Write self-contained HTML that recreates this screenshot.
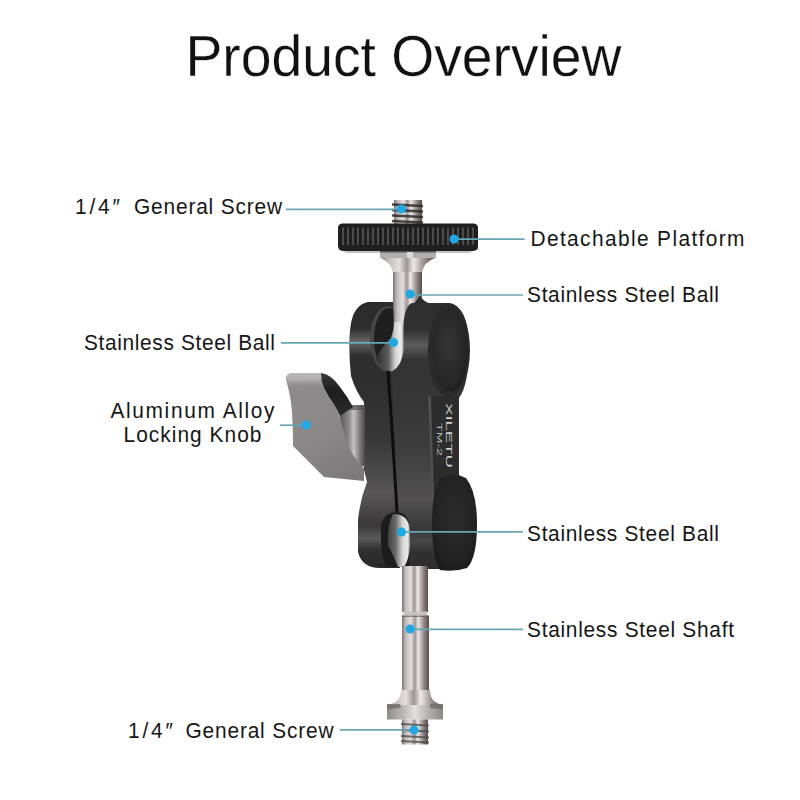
<!DOCTYPE html>
<html><head><meta charset="utf-8">
<style>
html,body{margin:0;padding:0;background:#fff;width:800px;height:800px;overflow:hidden}
svg{display:block}
text{font-family:"Liberation Sans",sans-serif;fill:#161616}
</style></head>
<body>
<svg width="800" height="800" viewBox="0 0 800 800">
<defs>
  <linearGradient id="steelV" x1="0" y1="0" x2="1" y2="0">
    <stop offset="0" stop-color="#7e7676"/>
    <stop offset="0.14" stop-color="#c4bcbc"/>
    <stop offset="0.34" stop-color="#e4dede"/>
    <stop offset="0.48" stop-color="#9c9494"/>
    <stop offset="0.6" stop-color="#eeeaea"/>
    <stop offset="0.76" stop-color="#a89e9e"/>
    <stop offset="0.92" stop-color="#6e6262"/>
    <stop offset="1" stop-color="#5a5050"/>
  </linearGradient>
  <linearGradient id="darkV" x1="0" y1="0" x2="1" y2="0">
    <stop offset="0" stop-color="#1e1e1e"/>
    <stop offset="0.3" stop-color="#3c3c3c"/>
    <stop offset="0.7" stop-color="#2a2a2a"/>
    <stop offset="1" stop-color="#181818"/>
  </linearGradient>
  <linearGradient id="backG" gradientUnits="userSpaceOnUse" x1="0" y1="302" x2="0" y2="568">
    <stop offset="0" stop-color="#2c2c2c"/>
    <stop offset="0.3" stop-color="#2e2e2e"/>
    <stop offset="0.52" stop-color="#383838"/>
    <stop offset="0.72" stop-color="#585656"/>
    <stop offset="0.82" stop-color="#3e3c3c"/>
    <stop offset="1" stop-color="#282828"/>
  </linearGradient>
  <linearGradient id="frontG" gradientUnits="userSpaceOnUse" x1="0" y1="302" x2="0" y2="576">
    <stop offset="0" stop-color="#303030"/>
    <stop offset="0.3" stop-color="#343434"/>
    <stop offset="0.52" stop-color="#3c3c3c"/>
    <stop offset="0.72" stop-color="#525050"/>
    <stop offset="0.84" stop-color="#363636"/>
    <stop offset="1" stop-color="#2a2a2a"/>
  </linearGradient>
  <radialGradient id="capG" cx="0.45" cy="0.45" r="0.6">
    <stop offset="0" stop-color="#353535"/>
    <stop offset="0.8" stop-color="#262626"/>
    <stop offset="1" stop-color="#1c1c1c"/>
  </radialGradient>
  <linearGradient id="cylG" x1="0" y1="0" x2="1" y2="0">
    <stop offset="0" stop-color="#5a5858"/>
    <stop offset="0.35" stop-color="#8a8888"/>
    <stop offset="0.55" stop-color="#c4c2c2"/>
    <stop offset="0.8" stop-color="#7a7878"/>
    <stop offset="1" stop-color="#4a4848"/>
  </linearGradient>
  <linearGradient id="baseG" x1="0" y1="0" x2="1" y2="0">
    <stop offset="0" stop-color="#8e8c8a"/>
    <stop offset="0.3" stop-color="#bdbab8"/>
    <stop offset="0.5" stop-color="#e2e0de"/>
    <stop offset="0.75" stop-color="#b0aeac"/>
    <stop offset="1" stop-color="#8a8886"/>
  </linearGradient>
  <linearGradient id="ballG" gradientUnits="userSpaceOnUse" x1="376" y1="0" x2="404" y2="0">
    <stop offset="0" stop-color="#2a2a2a"/>
    <stop offset="0.45" stop-color="#606060"/>
    <stop offset="0.68" stop-color="#cfcfcf"/>
    <stop offset="0.88" stop-color="#ededed"/>
    <stop offset="1" stop-color="#a5a5a5"/>
  </linearGradient>
  <linearGradient id="ballG2" gradientUnits="userSpaceOnUse" x1="384" y1="0" x2="410" y2="0">
    <stop offset="0" stop-color="#2a2a2a"/>
    <stop offset="0.45" stop-color="#6a6a6a"/>
    <stop offset="0.72" stop-color="#d6d6d6"/>
    <stop offset="0.9" stop-color="#e8e8e8"/>
    <stop offset="1" stop-color="#9a9a9a"/>
  </linearGradient>
  <linearGradient id="bandG" x1="0" y1="0" x2="0" y2="1">
    <stop offset="0" stop-color="#7a7a7a" stop-opacity="0"/>
    <stop offset="0.5" stop-color="#7a7a7a" stop-opacity="0.75"/>
    <stop offset="1" stop-color="#7a7a7a" stop-opacity="0"/>
  </linearGradient>
  <linearGradient id="bandG2" x1="0" y1="0" x2="0" y2="1">
    <stop offset="0" stop-color="#6e6e6e" stop-opacity="0"/>
    <stop offset="0.5" stop-color="#6e6e6e" stop-opacity="0.7"/>
    <stop offset="1" stop-color="#6e6e6e" stop-opacity="0"/>
  </linearGradient>
  <linearGradient id="notchG" gradientUnits="userSpaceOnUse" x1="0" y1="373" x2="0" y2="416">
    <stop offset="0" stop-color="#3a3a3a"/>
    <stop offset="0.4" stop-color="#1e1e1e"/>
    <stop offset="1" stop-color="#2a2a2a"/>
  </linearGradient>
  <linearGradient id="knobTopG" x1="0" y1="0" x2="0" y2="1">
    <stop offset="0" stop-color="#bdbbbb"/>
    <stop offset="0.45" stop-color="#adabab"/>
    <stop offset="1" stop-color="#8e8c8c" stop-opacity="0"/>
  </linearGradient>
  <radialGradient id="capG2" cx="0.5" cy="0.45" r="0.6">
    <stop offset="0" stop-color="#2c2c2c"/>
    <stop offset="0.75" stop-color="#232323"/>
    <stop offset="1" stop-color="#1a1a1a"/>
  </radialGradient>
  <linearGradient id="knobG" gradientUnits="userSpaceOnUse" x1="286" y1="373" x2="364" y2="481">
    <stop offset="0" stop-color="#8e8c8c"/>
    <stop offset="0.5" stop-color="#8a8888"/>
    <stop offset="1" stop-color="#7a7878"/>
  </linearGradient>
</defs>

<!-- title -->
<text transform="translate(185.5,76) scale(1,1.07)" font-size="54" textLength="436" lengthAdjust="spacingAndGlyphs" style="fill:#111;stroke:#fff;stroke-width:0.25px">Product Overview</text>

<!-- labels -->
<text transform="translate(75.00,213.5) scale(0.95,1)" font-size="22" textLength="47.37" lengthAdjust="spacing" style="stroke:#fff;stroke-width:0px">1/4″</text>
<text transform="translate(134.00,213.5) scale(0.95,1)" font-size="22" textLength="155.79" lengthAdjust="spacing" style="stroke:#fff;stroke-width:0px">General Screw</text>
<text transform="translate(530.50,245.5) scale(0.95,1)" font-size="22" textLength="225.26" lengthAdjust="spacing" style="stroke:#fff;stroke-width:0px">Detachable Platform</text>
<text transform="translate(527.00,301.5) scale(0.95,1)" font-size="22" textLength="202.11" lengthAdjust="spacing" style="stroke:#fff;stroke-width:0px">Stainless Steel Ball</text>
<text transform="translate(84.00,349.5) scale(0.95,1)" font-size="22" textLength="201.05" lengthAdjust="spacing" style="stroke:#fff;stroke-width:0px">Stainless Steel Ball</text>
<text transform="translate(110.50,418) scale(0.95,1)" font-size="22" textLength="172.63" lengthAdjust="spacing" style="stroke:#fff;stroke-width:0px">Aluminum Alloy</text>
<text transform="translate(123.50,442) scale(0.95,1)" font-size="22" textLength="145.26" lengthAdjust="spacing" style="stroke:#fff;stroke-width:0px">Locking Knob</text>
<text transform="translate(527.00,541) scale(0.95,1)" font-size="22" textLength="202.11" lengthAdjust="spacing" style="stroke:#fff;stroke-width:0px">Stainless Steel Ball</text>
<text transform="translate(527.00,636.5) scale(0.95,1)" font-size="22" textLength="217.89" lengthAdjust="spacing" style="stroke:#fff;stroke-width:0px">Stainless Steel Shaft</text>
<text transform="translate(128.00,737.5) scale(0.95,1)" font-size="22" textLength="47.37" lengthAdjust="spacing" style="stroke:#fff;stroke-width:0px">1/4″</text>
<text transform="translate(185.50,737.5) scale(0.95,1)" font-size="22" textLength="155.79" lengthAdjust="spacing" style="stroke:#fff;stroke-width:0px">General Screw</text>

<!-- ===== product ===== -->
<!-- top screw -->
<rect x="394" y="200" width="28" height="24" fill="url(#steelV)"/>
<g stroke="#2e2c2a" stroke-width="2.4" opacity="0.85">
  <line x1="392" y1="204.5" x2="423" y2="206"/>
  <line x1="392" y1="210" x2="423" y2="211.5"/>
  <line x1="392" y1="215.5" x2="423" y2="217"/>
  <line x1="392" y1="221" x2="423" y2="222.5"/>
</g>

<!-- platform -->
<path d="M342 223.5 L474 223.5 Q478 224 478 228 L478 247 Q478 251 472 251 L344 251 Q338 251 338 246 L338 228 Q338 224 342 223.5 Z" fill="#1f1f1f"/>
<path d="M343 227.5V245M348 227.5V245M353 227.5V245M358 227.5V245M363 227.5V245M368 227.5V245M373 227.5V245M378 227.5V245M383 227.5V245M388 227.5V245M393 227.5V245M398 227.5V245M403 227.5V245M408 227.5V245M413 227.5V245M418 227.5V245M423 227.5V245M428 227.5V245M433 227.5V245M438 227.5V245M443 227.5V245M448 227.5V245M453 227.5V245M458 227.5V245M463 227.5V245M468 227.5V245M473 227.5V245" stroke="#575757" stroke-width="1.6"/>
<path d="M344 251 L472 251 L470 253 L346 253 Z" fill="#9a9a9a" opacity="0.6"/>

<!-- collar + neck -->
<rect x="393" y="264" width="29" height="50" fill="url(#steelV)"/>
<path d="M381 258 L435 258 Q424 262 422 272 L393 272 Q390 262 381 258 Z" fill="url(#steelV)"/>
<rect x="380" y="251" width="56" height="7" fill="#b2b0ae"/>
<rect x="380" y="251" width="56" height="1.5" fill="#555"/>
<rect x="407" y="252" width="6" height="6" fill="#e6e6e6" opacity="0.8"/>

<!-- ===== body ===== -->
<!-- back plate -->
<path d="M368 302 L400 302 L400 568 L380 568 Q362 568 358 552 L358 520 Q360 500 367 482 L364 470 L364 402 Q356 392 351 376 Q349 360 349.5 340 Q350 318 356 310 Q361 303 368 302 Z" fill="url(#backG)"/>
<!-- back plate upper rim highlight -->
<path d="M350 328 L374 328 L374 356 L350 356 Z" fill="url(#bandG)"/>
<!-- lower lobe highlight -->
<path d="M358 526 L382 526 L382 550 L358 550 Z" fill="url(#bandG)" opacity="0.7"/>
<!-- upper socket -->
<ellipse cx="388" cy="339" rx="18" ry="33" fill="#474747"/>
<ellipse cx="389" cy="339" rx="15" ry="31" fill="#1f1f1f"/>
<!-- stem neck into socket -->
<path d="M393 300 L422 300 L422 304 Q410 310 405 326 L394 326 Z" fill="url(#steelV)"/>
<!-- front plate neck -->
<path d="M420 296 Q424 303 434 304 L412 306 Z" fill="#2a2a2a"/>
<!-- front plate -->
<path d="M412 303 L448 303 Q468 305 469 345 Q469 385 459 398 L459 475 Q470 482 472 525 Q472 565 455 569 L409 569 Q400 560 400 540 L397 512 L392 372 Q404 360 403 330 Q404 306 412 303 Z" fill="url(#frontG)"/>
<!-- front plate face -->
<path d="M428 396 L459 396 L459 478 L432 500 Z" fill="#2c2c2c"/>
<path d="M428 396 L431 396 L434 500 L432 500 Z" fill="#6a6a6a" opacity="0.6"/>
<!-- front upper band highlight -->
<path d="M403 330 L432 330 L432 360 L403 360 Z" fill="url(#bandG2)"/>
<path d="M404 530 L434 530 L434 552 L404 552 Z" fill="url(#bandG2)" opacity="0.5"/>
<!-- upper cap -->
<ellipse cx="449" cy="350" rx="21" ry="47" fill="#2a2a2a"/>
<ellipse cx="450" cy="350" rx="18" ry="42" fill="url(#capG)"/>
<!-- lower cap -->
<path d="M441 478 Q453 471 466 478 Q477 492 477 524 Q477 558 467 568 Q455 572 440 570 Q432 556 432 524 Q432 490 441 478 Z" fill="url(#capG2)"/>
<!-- upper ball crescent -->
<path d="M394 322 L403.5 322 L403.5 350 Q402 366 392 371.5 Q381 371 376 358 Q382 346 391 338 Q394 330 394 322 Z" fill="url(#ballG)"/>
<!-- lower socket + ball -->
<path d="M381 528 Q382 513 396 512 Q408 512 409 526 L409 567 L386 567 Q380 552 381 528 Z" fill="#1c1c1c"/>
<path d="M393 514 Q407 514 409.5 527 L410 545 Q409 560 404 567 L398 567 Q394 556 388 545 Q387 525 393 514 Z" fill="url(#ballG2)"/>
<!-- seam -->
<path d="M388 371 Q393 440 397 512" stroke="#0e0e0e" stroke-width="3" fill="none"/>

<!-- logo -->
<text transform="translate(445.5,403) rotate(90)" font-size="9" style="fill:#cfcfcf" textLength="65" lengthAdjust="spacingAndGlyphs">XILETU</text>
<text transform="translate(437,423) rotate(90)" font-size="7" style="fill:#bbb" textLength="33" lengthAdjust="spacingAndGlyphs">TM-2</text>

<!-- knob cylinder -->
<rect x="340" y="405" width="25" height="61" fill="url(#cylG)"/>
<path d="M340 405 L365 405 L365 410 L340 410 Z" fill="#555" opacity="0.7"/>
<!-- knob dark notch -->
<path d="M321 373 Q331 374 340 387 Q347 396 353 407 L340 416 Q334 404 328 396 Q323 388 321 380 Z" fill="url(#notchG)"/>
<!-- knob face -->
<path d="M286 379 Q286 373 293 373 L320 373 Q322 376 321 381 Q325 390 329 397 Q335 405 339 414 Q342 425 346 440 Q351 456 364 468 L364 481 L324 477 L293 446 Q293 420 291 402 Q289 390 286 379 Z" fill="url(#knobG)"/>
<path d="M286.5 378 Q287 373 293 373 L320 373 Q322 375 321.5 381 Q323 385 324 388 L288.5 388 Z" fill="url(#knobTopG)"/>

<!-- lower shaft -->
<rect x="402" y="566" width="26" height="46" fill="url(#steelV)"/>
<rect x="403.5" y="611.5" width="23.5" height="4" fill="#c8c2c2"/>
<rect x="402" y="615.5" width="27" height="82" fill="url(#steelV)"/>
<rect x="402" y="615.5" width="27" height="1.5" fill="#5a5050" opacity="0.6"/>
<path d="M401 690 Q401 703 387 705 L443 705 Q430 703 430 690 Z" fill="url(#steelV)"/>
<path d="M387 705 L443 705 L443 719.5 L387 719.5 Z" fill="url(#baseG)"/>
<path d="M387 704 L400 704 L401 708 L387 709 Z M430 704 L443 704 L443 709 L430 708 Z" fill="#6e6c6a" opacity="0.8"/>
<rect x="402" y="719.5" width="26" height="25" fill="url(#steelV)"/>
<g stroke="#4a4846" stroke-width="1.8" opacity="0.75">
  <line x1="401" y1="724" x2="429" y2="725.5"/>
  <line x1="401" y1="730" x2="429" y2="731.5"/>
  <line x1="401" y1="736" x2="429" y2="737.5"/>
  <line x1="401" y1="741" x2="429" y2="742.5"/>
</g>

<!-- ===== callout lines ===== -->
<g stroke="#6aa6b2" stroke-width="1.7">
  <line x1="286" y1="209.3" x2="401" y2="209.3"/>
  <line x1="454" y1="239.2" x2="524.5" y2="239.2"/>
  <line x1="410" y1="295" x2="523" y2="295"/>
  <line x1="281" y1="342.9" x2="393" y2="342.9"/>
  <line x1="280" y1="425.2" x2="306" y2="425.2"/>
  <line x1="401" y1="531.9" x2="523" y2="531.9"/>
  <line x1="410" y1="629.4" x2="523" y2="629.4"/>
  <line x1="340" y1="729.8" x2="414" y2="729.8"/>
</g>
<g fill="#1ea9e6">
  <circle cx="401.5" cy="209" r="4.5"/>
  <circle cx="454" cy="239" r="4.5"/>
  <circle cx="410" cy="294" r="4.5"/>
  <circle cx="393.5" cy="342.5" r="4.5"/>
  <circle cx="306" cy="425" r="4.5"/>
  <circle cx="401.5" cy="532" r="4.5"/>
  <circle cx="410" cy="629" r="4.5"/>
  <circle cx="414" cy="730" r="4.5"/>
</g>
</svg>
</body></html>
